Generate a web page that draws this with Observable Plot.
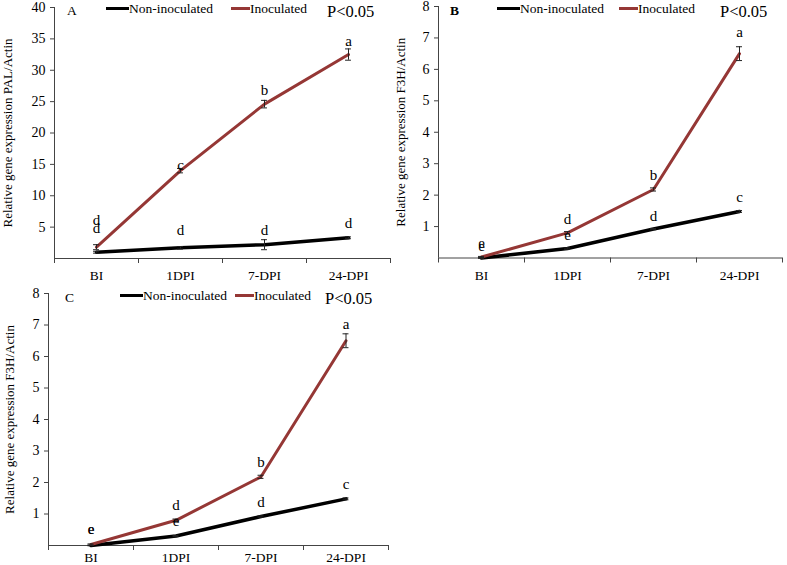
<!DOCTYPE html>
<html>
<head>
<meta charset="utf-8">
<script src="https://cdn.jsdelivr.net/npm/d3@7"></script>
<script src="https://cdn.jsdelivr.net/npm/@observablehq/plot@0.6"></script>
<style>
  html, body { margin: 0; padding: 0; background: #fff; }
  #root { position: relative; width: 787px; height: 565px; overflow: hidden; font-family: "Liberation Serif", "Times New Roman", serif; }
  .panel { position: absolute; }
  .ov { position: absolute; white-space: nowrap; line-height: 1; color: #000; font-family: "Liberation Serif", "Times New Roman", serif; }
  .sw { position: absolute; height: 3px; }
</style>
</head>
<body>
<div id="root"></div>
<script>
// ---------------- data ----------------
const categories = ["BI", "1DPI", "7-DPI", "24-DPI"];
const seriesNames = ["Non-inoculated", "Inoculated"];

// Panel A: PAL
const palNon = [1.0, 1.7, 2.2, 3.3];
const palNonErr = [0.15, 0.2, 0.8, 0.15];
const palInoc = [1.8, 14.0, 24.6, 32.5];
const palInocErr = [0.4, 0.35, 0.6, 0.9];
const palNonLetters = ["d", "d", "d", "d"];
const palInocLetters = ["d", "c", "b", "a"];
const palNonLetterY = [4.8, 4.5, 4.5, 5.6];
const palInocLetterY = [6.05, 14.8, 26.9, 34.7];
const palTicks = [5, 10, 15, 20, 25, 30, 35, 40];

// Panels B and C: F3H
const f3hNon = [0.0, 0.3, 0.92, 1.48];
const f3hNonErr = [0.01, 0.02, 0.02, 0.03];
const f3hInoc = [0.03, 0.8, 2.18, 6.5];
const f3hInocErr = [0.02, 0.04, 0.05, 0.22];
const f3hNonLetters = ["e", "e", "d", "c"];
const f3hInocLetters = ["e", "d", "b", "a"];
const bNonLetterY = [0.39, 0.71, 1.34, 1.92];
const bInocLetterY = [0.46, 1.23, 2.64, 7.17];
const cNonLetterY = [0.51, 0.77, 1.37, 1.94];
const cInocLetterY = [0.53, 1.27, 2.64, 7.04];
const f3hTicks = [1, 2, 3, 4, 5, 6, 7, 8];

// ---------------- drawing ----------------
const RED = "#953735";
const FONT = "'Liberation Serif', 'Times New Roman', serif";
const root = document.getElementById("root");

function panel(cfg) {
  const rows = categories.map((c, i) => ({
    x: i + 0.5,
    non: cfg.non[i], nonErr: cfg.nonErr[i],
    inoc: cfg.inoc[i], inocErr: cfg.inocErr[i],
    nonLab: cfg.nonLetters[i], inocLab: cfg.inocLetters[i],
    nonLabY: cfg.nonLetterY[i], inocLabY: cfg.inocLetterY[i]
  }));
  const capHalf = 0.035;
  const chart = Plot.plot({
    width: cfg.width,
    height: cfg.height,
    marginLeft: cfg.ml, marginRight: cfg.mr, marginTop: cfg.mt, marginBottom: cfg.mb,
    style: { fontFamily: FONT, fontSize: "14px", background: "transparent", overflow: "visible", color: "#000" },
    x: { domain: [0, 4], axis: null },
    y: { domain: cfg.yDomain, axis: null },
    marks: [
      Plot.axisY({ ticks: cfg.yTicks, tickSize: 4, tickPadding: 5, label: null, fontSize: 14, stroke: "#444" }),
      Plot.axisY({ ticks: [], label: cfg.ylabel, labelAnchor: "center", labelArrow: "none", labelOffset: cfg.labelOffset, fontSize: 13 }),
      Plot.axisX({ ticks: [0, 1, 2, 3, 4], tickFormat: () => "", tickSize: 5, label: null, stroke: "#444" }),
      Plot.axisX({ ticks: [0.5, 1.5, 2.5, 3.5], tickFormat: (d) => categories[Math.floor(d)], tickSize: 0, tickPadding: cfg.xPad, label: null, fontSize: 13.5 }),
      Plot.ruleY([cfg.yDomain[0]], { stroke: "#444", strokeWidth: 1 }),
      Plot.ruleX([0], { stroke: "#444", strokeWidth: 1 }),
      Plot.line(rows, { x: "x", y: "non", stroke: "#000", strokeWidth: 3.5 }),
      Plot.line(rows, { x: "x", y: "inoc", stroke: RED, strokeWidth: 3 }),
      // error bars
      Plot.ruleX(rows, { x: "x", y1: (d) => d.non - d.nonErr, y2: (d) => d.non + d.nonErr, stroke: "#222", strokeWidth: 1 }),
      Plot.ruleY(rows, { y: (d) => d.non - d.nonErr, x1: (d) => d.x - capHalf, x2: (d) => d.x + capHalf, stroke: "#222", strokeWidth: 1 }),
      Plot.ruleY(rows, { y: (d) => d.non + d.nonErr, x1: (d) => d.x - capHalf, x2: (d) => d.x + capHalf, stroke: "#222", strokeWidth: 1 }),
      Plot.ruleX(rows, { x: "x", y1: (d) => d.inoc - d.inocErr, y2: (d) => d.inoc + d.inocErr, stroke: "#222", strokeWidth: 1 }),
      Plot.ruleY(rows, { y: (d) => d.inoc - d.inocErr, x1: (d) => d.x - capHalf, x2: (d) => d.x + capHalf, stroke: "#222", strokeWidth: 1 }),
      Plot.ruleY(rows, { y: (d) => d.inoc + d.inocErr, x1: (d) => d.x - capHalf, x2: (d) => d.x + capHalf, stroke: "#222", strokeWidth: 1 }),
      // significance letters
      Plot.text(rows, { x: "x", y: "nonLabY", text: "nonLab", fontSize: 15, fill: "#000" }),
      Plot.text(rows, { x: "x", y: "inocLabY", text: "inocLab", fontSize: 15, fill: "#000" })
    ]
  });
  const wrap = document.createElement("div");
  wrap.className = "panel";
  wrap.style.left = cfg.left + "px";
  wrap.style.top = cfg.top + "px";
  wrap.appendChild(chart);
  root.appendChild(wrap);

  // overlays: panel letter, legend, p-value
  const L = cfg.legend;
  const add = (txt, left, cy, size, extra) => {
    const d = document.createElement("div");
    d.className = "ov";
    d.style.left = left + "px";
    d.style.top = (cy - size / 2) + "px";
    d.style.fontSize = size + "px";
    d.style.height = size + "px";
    if (extra) Object.assign(d.style, extra);
    d.textContent = txt;
    root.appendChild(d);
  };
  const sw = (left, width, cy, color) => {
    const d = document.createElement("div");
    d.className = "sw";
    d.style.left = left + "px";
    d.style.width = width + "px";
    d.style.top = (cy - 1.5) + "px";
    d.style.background = color;
    root.appendChild(d);
  };
  add(cfg.tag, L.tagX, L.cy + 3, 13.5, cfg.tagBold ? { fontWeight: "bold" } : null);
  sw(L.blackX, 23, L.cy, "#000");
  add(seriesNames[0], L.blackX + 23, L.cy + 1, 13.5);
  sw(L.redX, 19, L.cy, RED);
  add(seriesNames[1], L.redX + 19, L.cy + 1, 13.5);
  add("P<0.05", L.pX, L.cy + 4, 16.5);
}

panel({
  left: 0, top: 0, width: 395, height: 285,
  ml: 54, mr: 5, mt: 7, mb: 27, xPad: 12, labelOffset: 52,
  yDomain: [0, 40], yTicks: palTicks,
  ylabel: "Relative gene expression PAL/Actin",
  non: palNon, nonErr: palNonErr, inoc: palInoc, inocErr: palInocErr,
  nonLetters: palNonLetters, inocLetters: palInocLetters,
  nonLetterY: palNonLetterY, inocLetterY: palInocLetterY,
  tag: "A", tagBold: false,
  legend: { tagX: 67, cy: 8, blackX: 106, redX: 231, pX: 327 }
});

panel({
  left: 390, top: 0, width: 397, height: 285,
  ml: 48, mr: 5, mt: 6, mb: 27.5, xPad: 12, labelOffset: 43,
  yDomain: [0, 8], yTicks: f3hTicks,
  ylabel: "Relative gene expression F3H/Actin",
  non: f3hNon, nonErr: f3hNonErr, inoc: f3hInoc, inocErr: f3hInocErr,
  nonLetters: f3hNonLetters, inocLetters: f3hInocLetters,
  nonLetterY: bNonLetterY, inocLetterY: bInocLetterY,
  tag: "B", tagBold: true,
  legend: { tagX: 450, cy: 8, blackX: 497, redX: 619, pX: 720 }
});

panel({
  left: 0, top: 280, width: 395, height: 285,
  ml: 48, mr: 7, mt: 13, mb: 20, xPad: 7, labelOffset: 44,
  yDomain: [0, 8], yTicks: f3hTicks,
  ylabel: "Relative gene expression F3H/Actin",
  non: f3hNon, nonErr: f3hNonErr, inoc: f3hInoc, inocErr: f3hInocErr,
  nonLetters: f3hNonLetters, inocLetters: f3hInocLetters,
  nonLetterY: cNonLetterY, inocLetterY: cInocLetterY,
  tag: "C", tagBold: false,
  legend: { tagX: 65, cy: 295, blackX: 120, redX: 235, pX: 325 }
});
</script>
</body>
</html>
